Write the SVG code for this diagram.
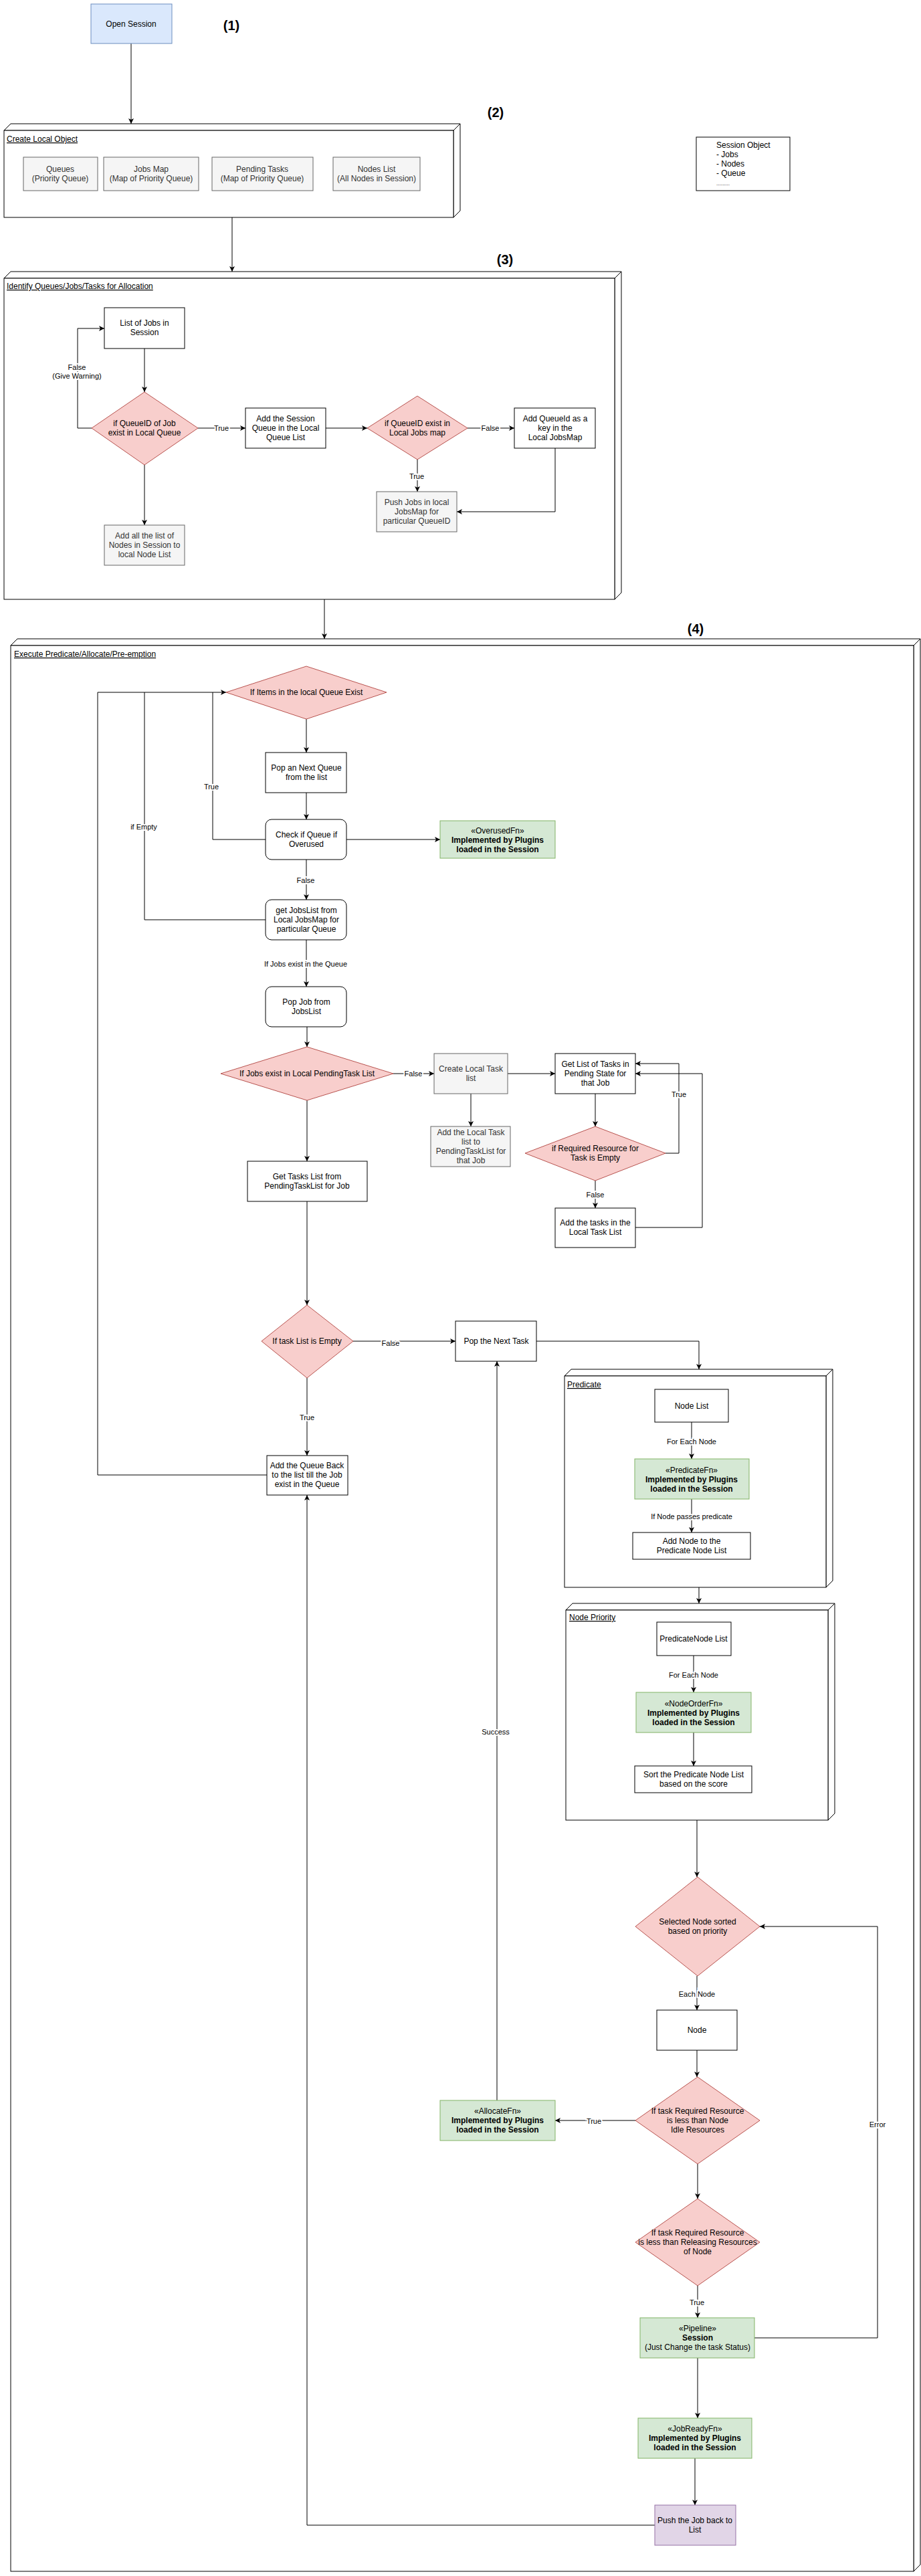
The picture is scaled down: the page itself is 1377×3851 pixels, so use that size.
<svg xmlns="http://www.w3.org/2000/svg" width="1377" height="3851" viewBox="0 0 1377 3851">
<style>
text{font-family:"Liberation Sans",Arial,sans-serif;font-size:12px;fill:#000;text-anchor:middle}
.w{fill:#fff;stroke:#000;stroke-width:1}
.g{fill:#f5f5f5;stroke:#666;stroke-width:1}
.gt{fill:#333}
.gr{fill:#d5e8d4;stroke:#82b366;stroke-width:1}
.rd{fill:#f8cecc;stroke:#b85450;stroke-width:1}
.bl{fill:#dae8fc;stroke:#6c8ebf;stroke-width:1}
.pu{fill:#e1d5e7;stroke:#9673a6;stroke-width:1}
.c{fill:none;stroke:#000;stroke-width:1}
.a{marker-end:url(#ar)}
.lb{font-size:11px;stroke:#fff;stroke-width:4px;paint-order:stroke}
.t{text-anchor:start;text-decoration:underline}
.n{font-size:20px;font-weight:bold}
.b{font-weight:bold}
</style>
<defs>
<marker id="ar" markerWidth="10" markerHeight="10" refX="8" refY="4" orient="auto" markerUnits="userSpaceOnUse">
<path d="M0,0 L8,4 L0,8 L2,4 Z" fill="#000"/>
</marker>
</defs>
<g id="containers">
<g id="c2"><path class="w" d="M6 195 L16 185 H688 L678 195 Z M678 195 L688 185 V315 L678 325 Z"/><rect class="w" x="6" y="195" width="672" height="130"/><text class="t" x="10" y="212">Create Local Object </text></g>
<g id="c3"><path class="w" d="M6 416 L16 406 H929 L919 416 Z M919 416 L929 406 V886 L919 896 Z"/><rect class="w" x="6" y="416" width="913" height="480"/><text class="t" x="10" y="432">Identify Queues/Jobs/Tasks for Allocation </text></g>
<g id="c4"><path class="w" d="M16 965 L26 955 H1376 L1366 965 Z M1366 965 L1376 955 V3834 L1366 3844 Z"/><rect class="w" x="16" y="965" width="1350" height="2879"/><text class="t" x="21" y="982">Execute Predicate/Allocate/Pre-emption</text></g>
<g id="cpred"><path class="w" d="M844 2057 L854 2047 H1245 L1235 2057 Z M1235 2057 L1245 2047 V2363 L1235 2373 Z"/><rect class="w" x="844" y="2057" width="391" height="316"/><text class="t" x="848" y="2074">Predicate</text></g>
<g id="cprio"><path class="w" d="M846 2407 L856 2397 H1248 L1238 2407 Z M1238 2407 L1248 2397 V2711 L1238 2721 Z"/><rect class="w" x="846" y="2407" width="392" height="314"/><text class="t" x="851" y="2422">Node Priority</text></g>
</g>
<g id="numbers">
<text class="n" x="346" y="45">(1)</text>
<text class="n" x="741" y="175">(2)</text>
<text class="n" x="755" y="395">(3)</text>
<text class="n" x="1040" y="947">(4)</text>
</g>
<g id="connectors">
<path class="c a" d="M196 65 V185"/>
<path class="c a" d="M347 325 V406"/>
<path class="c a" d="M216 521 V586"/>
<path class="c a" d="M137 640 H116 V491 H156"/>
<path class="c a" d="M296 640 H367"/>
<path class="c a" d="M487 640 H549"/>
<path class="c a" d="M699 640 H769"/>
<path class="c a" d="M624 687 V735"/>
<path class="c a" d="M830 670 V765 H683"/>
<path class="c a" d="M216 695 V785"/>
<path class="c a" d="M485 896 V955"/>
<path class="c a" d="M458 1075 V1125"/>
<path class="c a" d="M458 1185 V1225"/>
<path class="c a" d="M397 1255 H318 V1035 H338"/>
<path class="c a" d="M518 1255 H658"/>
<path class="c a" d="M458 1285 V1345"/>
<path class="c" d="M397 1375 H216 V1035 H318"/>
<path class="c a" d="M458 1405 V1475"/>
<path class="c a" d="M459 1535 V1565"/>
<path class="c a" d="M588 1605 H649"/>
<path class="c a" d="M759 1605 H830"/>
<path class="c a" d="M704 1635 V1684"/>
<path class="c a" d="M890 1635 V1684"/>
<path class="c a" d="M995 1724 H1015 V1590 H950"/>
<path class="c a" d="M890 1765 V1806"/>
<path class="c a" d="M950 1835 H1050 V1605 H950"/>
<path class="c a" d="M459 1645 V1736"/>
<path class="c a" d="M459 1796 V1951"/>
<path class="c a" d="M528 2005 H681"/>
<path class="c a" d="M459 2060 V2176"/>
<path class="c" d="M399 2205 H146 V1035 H216"/>
<path class="c a" d="M802 2005 H1045 V2047"/>
<path class="c a" d="M1034 2126 V2181"/>
<path class="c a" d="M1034 2241 V2291"/>
<path class="c a" d="M1045 2373 V2397"/>
<path class="c a" d="M1037 2475 V2530"/>
<path class="c a" d="M1037 2590 V2640"/>
<path class="c a" d="M1042 2721 V2806"/>
<path class="c a" d="M1042 2954 V3005"/>
<path class="c a" d="M1042 3065 V3105"/>
<path class="c a" d="M950 3170 H830"/>
<path class="c a" d="M1043 3235 V3287"/>
<path class="c a" d="M1043 3417 V3465"/>
<path class="c a" d="M1128 3495 H1312 V2880 H1136"/>
<path class="c a" d="M1043 3525 V3615"/>
<path class="c a" d="M1039 3675 V3745"/>
<path class="c a" d="M979 3775 H459 V2235"/>
<path class="c a" d="M743 3140 V2035"/>
<text class="lb" x="115" y="553">False</text>
<text class="lb" x="115" y="566">(Give Warning)</text>
<text class="lb" x="331" y="644">True</text>
<text class="lb" x="733" y="644">False</text>
<text class="lb" x="623" y="716">True</text>
<text class="lb" x="316" y="1180">True</text>
<text class="lb" x="215" y="1240">if Empty</text>
<text class="lb" x="457" y="1320">False</text>
<text class="lb" x="457" y="1445">If Jobs exist in the Queue</text>
<text class="lb" x="618" y="1609">False</text>
<text class="lb" x="1015" y="1640">True</text>
<text class="lb" x="890" y="1790">False</text>
<text class="lb" x="584" y="2012">False</text>
<text class="lb" x="459" y="2123">True</text>
<text class="lb" x="1034" y="2159">For Each Node</text>
<text class="lb" x="1034" y="2271">If Node passes predicate</text>
<text class="lb" x="1037" y="2508">For Each Node</text>
<text class="lb" x="741" y="2593">Success</text>
<text class="lb" x="1042" y="2985">Each Node</text>
<text class="lb" x="888" y="3175">True</text>
<text class="lb" x="1042" y="3446">True</text>
<text class="lb" x="1312" y="3180">Error</text>
</g>
<g id="open"><rect class="bl" x="136" y="6" width="121" height="59"/><text x="196" y="40">Open Session</text></g>
<g id="queues"><rect class="g" x="35" y="235" width="111" height="50"/><text class="gt" x="90" y="257">Queues</text><text class="gt" x="90" y="271">(Priority Queue)</text></g>
<g id="jobsmap"><rect class="g" x="155" y="235" width="142" height="50"/><text class="gt" x="226" y="257">Jobs Map</text><text class="gt" x="226" y="271">(Map of Priority Queue)</text></g>
<g id="pending"><rect class="g" x="317" y="235" width="151" height="50"/><text class="gt" x="392" y="257">Pending Tasks</text><text class="gt" x="392" y="271">(Map of Priority Queue)</text></g>
<g id="nodes"><rect class="g" x="498" y="235" width="130" height="50"/><text class="gt" x="563" y="257">Nodes List</text><text class="gt" x="563" y="271">(All Nodes in Session)</text></g>
<g id="session"><rect class="w" x="1041" y="205" width="140" height="80"/><text x="1071" y="221" style="text-anchor:start">Session Object</text><text x="1071" y="235" style="text-anchor:start">- Jobs</text><text x="1071" y="249" style="text-anchor:start">- Nodes</text><text x="1071" y="263" style="text-anchor:start">- Queue</text><text x="1071" y="277" style="text-anchor:start;font-size:8px">.........</text></g>
<g id="listjobs"><rect class="w" x="156" y="460" width="120" height="61"/><text x="216" y="487">List of Jobs in</text><text x="216" y="501">Session</text></g>
<g id="d1"><polygon class="rd" points="216,586 296,640 216,695 137,640"/><text x="216" y="637">if QueueID of Job</text><text x="216" y="651">exist in Local Queue</text></g>
<g id="addsession"><rect class="w" x="367" y="610" width="120" height="60"/><text x="427" y="630">Add the Session</text><text x="427" y="644">Queue in the Local</text><text x="427" y="658">Queue List</text></g>
<g id="d2"><polygon class="rd" points="624,592 699,640 624,687 549,640"/><text x="624" y="637">if QueueID exist in</text><text x="624" y="651">Local Jobs map</text></g>
<g id="addqid"><rect class="w" x="769" y="610" width="121" height="60"/><text x="830" y="630">Add QueueId as a</text><text x="830" y="644">key in the</text><text x="830" y="658">Local JobsMap</text></g>
<g id="pushjobs"><rect class="g" x="563" y="735" width="120" height="60"/><text class="gt" x="623" y="755">Push Jobs in local</text><text class="gt" x="623" y="769">JobsMap for</text><text class="gt" x="623" y="783">particular QueueID</text></g>
<g id="addall"><rect class="g" x="156" y="785" width="120" height="60"/><text class="gt" x="216" y="805">Add all the list of</text><text class="gt" x="216" y="819">Nodes in Session to</text><text class="gt" x="216" y="833">local Node List</text></g>
<g id="d4a"><polygon class="rd" points="458,996 578,1035 458,1075 338,1035"/><text x="458" y="1039">If Items in the local Queue Exist</text></g>
<g id="popq"><rect class="w" x="397" y="1125" width="121" height="60"/><text x="458" y="1152">Pop an Next Queue</text><text x="458" y="1166">from the list</text></g>
<g id="check"><rect class="w" x="397" y="1225" width="121" height="60" rx="9"/><text x="458" y="1252">Check if Queue if</text><text x="458" y="1266">Overused</text></g>
<g id="overused"><rect class="gr" x="658" y="1227" width="172" height="56"/><text x="744" y="1246">«OverusedFn»</text><text class="b" x="744" y="1260">Implemented by Plugins</text><text class="b" x="744" y="1274">loaded in the Session</text></g>
<g id="getjobs"><rect class="w" x="397" y="1345" width="121" height="60" rx="9"/><text x="458" y="1365">get JobsList from</text><text x="458" y="1379">Local JobsMap for</text><text x="458" y="1393">particular Queue</text></g>
<g id="popjob"><rect class="w" x="397" y="1475" width="121" height="60" rx="9"/><text x="458" y="1502">Pop Job from</text><text x="458" y="1516">JobsList</text></g>
<g id="d4b"><polygon class="rd" points="459,1565 588,1605 459,1645 330,1605"/><text x="459" y="1609">If Jobs exist in Local PendingTask List</text></g>
<g id="createlocal"><rect class="g" x="649" y="1575" width="110" height="60"/><text class="gt" x="704" y="1602">Create Local Task</text><text class="gt" x="704" y="1616">list</text></g>
<g id="getlist"><rect class="w" x="830" y="1575" width="120" height="60"/><text x="890" y="1595">Get List of Tasks in</text><text x="890" y="1609">Pending State for</text><text x="890" y="1623">that Job</text></g>
<g id="addlocal"><rect class="g" x="644" y="1684" width="119" height="60"/><text class="gt" x="704" y="1697">Add the Local Task</text><text class="gt" x="704" y="1711">list  to</text><text class="gt" x="704" y="1725">PendingTaskList for</text><text class="gt" x="704" y="1739">that Job</text></g>
<g id="d4c"><polygon class="rd" points="890,1684 995,1724 890,1765 785,1724"/><text x="890" y="1721">if  Required Resource for</text><text x="890" y="1735">Task is Empty</text></g>
<g id="addtasks"><rect class="w" x="830" y="1806" width="120" height="59"/><text x="890" y="1832">Add the tasks in the</text><text x="890" y="1846">Local Task List</text></g>
<g id="gettasks"><rect class="w" x="370" y="1736" width="179" height="60"/><text x="459" y="1763">Get Tasks List from</text><text x="459" y="1777">PendingTaskList for Job</text></g>
<g id="d5"><polygon class="rd" points="459,1951 528,2005 459,2060 391,2005"/><text x="459" y="2009">If task List is Empty</text></g>
<g id="popnext"><rect class="w" x="681" y="1975" width="121" height="60"/><text x="742" y="2009">Pop the Next Task</text></g>
<g id="queueback"><rect class="w" x="399" y="2176" width="121" height="59"/><text x="459" y="2195">Add the Queue Back</text><text x="459" y="2209">to the list till the Job</text><text x="459" y="2223">exist in the Queue</text></g>
<g id="nodelist"><rect class="w" x="979" y="2077" width="110" height="49"/><text x="1034" y="2106">Node List</text></g>
<g id="predfn"><rect class="gr" x="949" y="2181" width="171" height="60"/><text x="1034" y="2202">«PredicateFn»</text><text class="b" x="1034" y="2216">Implemented by Plugins</text><text class="b" x="1034" y="2230">loaded in the Session</text></g>
<g id="addnode"><rect class="w" x="946" y="2291" width="176" height="40"/><text x="1034" y="2308">Add Node to the</text><text x="1034" y="2322">Predicate Node List</text></g>
<g id="pnl"><rect class="w" x="982" y="2425" width="111" height="50"/><text x="1037" y="2454">PredicateNode List</text></g>
<g id="nodeorder"><rect class="gr" x="951" y="2530" width="172" height="60"/><text x="1037" y="2551">«NodeOrderFn»</text><text class="b" x="1037" y="2565">Implemented by Plugins</text><text class="b" x="1037" y="2579">loaded in the Session</text></g>
<g id="sort"><rect class="w" x="949" y="2640" width="175" height="40"/><text x="1037" y="2657">Sort the Predicate Node List</text><text x="1037" y="2671">based on the score</text></g>
<g id="d6"><polygon class="rd" points="1043,2806 1136,2880 1043,2954 950,2880"/><text x="1043" y="2877">Selected Node sorted</text><text x="1043" y="2891">based on priority</text></g>
<g id="node"><rect class="w" x="982" y="3005" width="120" height="60"/><text x="1042" y="3039">Node</text></g>
<g id="d7"><polygon class="rd" points="1043,3105 1136,3170 1043,3235 950,3170"/><text x="1043" y="3160">If task Required Resource</text><text x="1043" y="3174">is less than Node</text><text x="1043" y="3188">Idle Resources</text></g>
<g id="allocate"><rect class="gr" x="658" y="3140" width="172" height="60"/><text x="744" y="3160">«AllocateFn»</text><text class="b" x="744" y="3174">Implemented by Plugins</text><text class="b" x="744" y="3188">loaded in the Session</text></g>
<g id="d8"><polygon class="rd" points="1043,3287 1136,3352 1043,3417 950,3352"/><text x="1043" y="3342">If task Required Resource</text><text x="1043" y="3356">is less than Releasing Resources</text><text x="1043" y="3370">of Node</text></g>
<g id="pipeline"><rect class="gr" x="957" y="3465" width="171" height="60"/><text x="1043" y="3485">«Pipeline»</text><text class="b" x="1043" y="3499">Session</text><text x="1043" y="3513">(Just Change the task Status)</text></g>
<g id="jobready"><rect class="gr" x="954" y="3615" width="170" height="60"/><text x="1039" y="3635">«JobReadyFn»</text><text class="b" x="1039" y="3649">Implemented by Plugins</text><text class="b" x="1039" y="3663">loaded in the Session</text></g>
<g id="pushback"><rect class="pu" x="979" y="3745" width="121" height="60"/><text x="1039" y="3772">Push the Job back to</text><text x="1039" y="3786">List</text></g>
</svg>
